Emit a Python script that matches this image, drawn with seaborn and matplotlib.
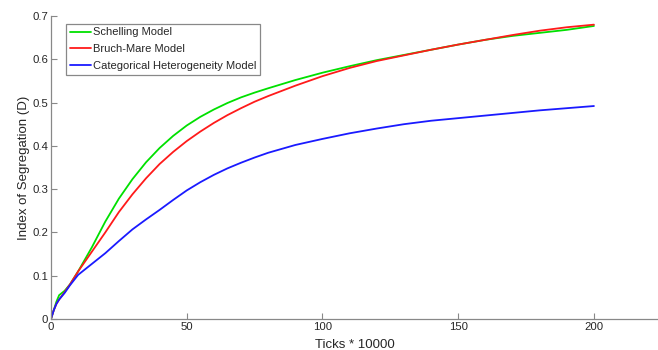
import pandas as pd
import matplotlib.pyplot as plt
import seaborn as sns

sns.set_style("white")
plt.rcParams['font.family'] = ['Liberation Sans', 'DejaVu Sans']

# ticks (in units of 10000) and index of segregation
ticks = [0, 1, 2, 3, 5, 7, 10, 15, 20, 25, 30, 35, 40, 45, 50, 55, 60, 65, 70, 75, 80,
         90, 100, 110, 120, 130, 140, 150, 160, 170, 180, 190, 200]
schelling = [0.0, 0.02, 0.04, 0.055, 0.065, 0.08, 0.11, 0.165, 0.225, 0.278, 0.323,
             0.362, 0.395, 0.423, 0.447, 0.467, 0.484, 0.499, 0.512, 0.523, 0.533,
             0.552, 0.569, 0.584, 0.598, 0.61, 0.622, 0.634, 0.645, 0.654, 0.661,
             0.668, 0.677]
bruch_mare = [0.0, 0.02, 0.035, 0.045, 0.062, 0.08, 0.11, 0.155, 0.20, 0.247, 0.288,
              0.325, 0.358, 0.386, 0.411, 0.433, 0.453, 0.471, 0.487, 0.502, 0.515,
              0.539, 0.561, 0.58, 0.596, 0.609, 0.622, 0.634, 0.645, 0.656, 0.666,
              0.674, 0.68]
categorical = [0.0, 0.02, 0.035, 0.045, 0.06, 0.078, 0.102, 0.127, 0.152, 0.18, 0.207,
               0.23, 0.252, 0.275, 0.297, 0.316, 0.333, 0.348, 0.361, 0.373, 0.384,
               0.402, 0.416, 0.429, 0.44, 0.45, 0.458, 0.464, 0.47, 0.476, 0.482,
               0.487, 0.492]
models = ["Schelling Model", "Bruch-Mare Model", "Categorical Heterogeneity Model"]
colors = ["#00e000", "#ff1a1a", "#1a1aff"]

frames = []
for name, vals in zip(models, [schelling, bruch_mare, categorical]):
    frames.append(pd.DataFrame({"Ticks": ticks, "D": vals, "Model": name}))
df = pd.concat(frames, ignore_index=True)

fig = plt.figure(figsize=(6.58, 3.5), dpi=100)
ax = fig.add_axes([0.0775, 0.0886, 0.9225, 0.8657])

sns.lineplot(data=df, x="Ticks", y="D", hue="Model", palette=colors,
             hue_order=models, linewidth=1.3, ax=ax)

ax.set_xlim(0, 223.6)
ax.set_ylim(0, 0.7)
ax.set_xticks([0, 50, 100, 150, 200])
ax.set_yticks([0, 0.1, 0.2, 0.3, 0.4, 0.5, 0.6, 0.7])
ax.set_yticklabels(["0", "0.1", "0.2", "0.3", "0.4", "0.5", "0.6", "0.7"])
ax.set_xlabel("Ticks * 10000", fontsize=9.5, labelpad=5)
ax.set_ylabel("Index of Segregation (D)", fontsize=9.5, labelpad=2)

for s in ["top", "right"]:
    ax.spines[s].set_visible(False)
for s in ["left", "bottom"]:
    ax.spines[s].set_color("#888888")
    ax.spines[s].set_linewidth(0.9)
ax.tick_params(direction="in", length=4, width=0.8, color="#888888",
               labelsize=8.2, pad=2, left=True, bottom=True)

leg = ax.legend(loc="upper left", bbox_to_anchor=(0.025, 0.975), borderaxespad=0,
                fontsize=8, fancybox=False, framealpha=1, handlelength=1.85,
                handletextpad=0.2, labelspacing=0.62, borderpad=0.35)
leg.get_frame().set_edgecolor("#888888")
leg.get_frame().set_linewidth(0.9)

fig.savefig("out.png", dpi=100)
